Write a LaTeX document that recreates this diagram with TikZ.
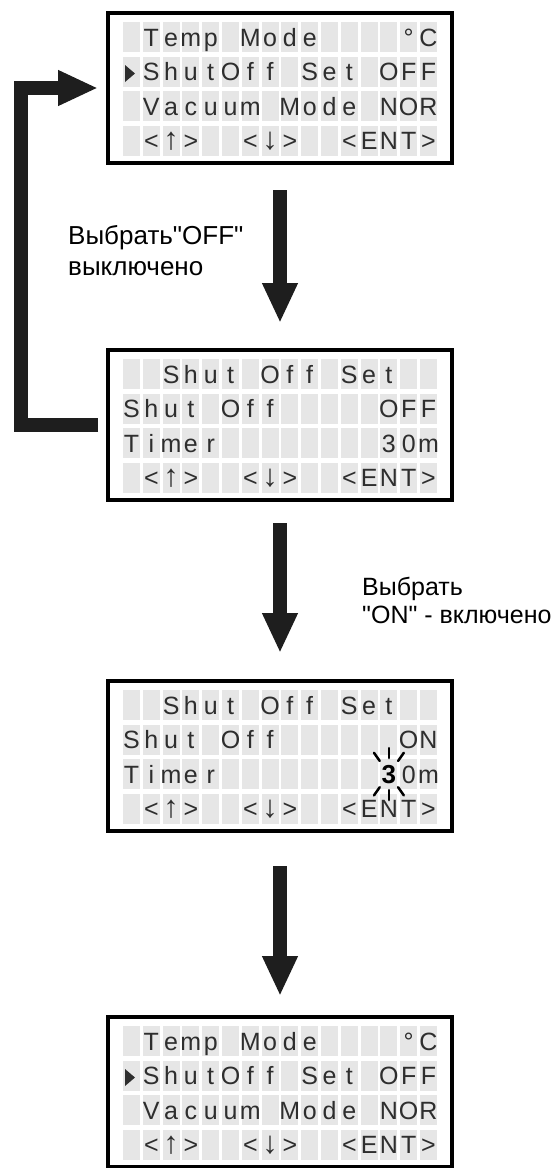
\documentclass[tikz,border=0pt]{standalone}
\usepackage{fontspec}
\setmainfont{Liberation Sans}[Ligatures=TeXOff]
\usetikzlibrary{arrows.meta,positioning,calc}
\definecolor{lcdgris}{HTML}{E6E6E6}
\definecolor{lcdtxt}{HTML}{2E2E2E}
\definecolor{noirA}{HTML}{1E1E1E}
\newcommand{\fl}[1]{{\fontsize{31}{31}\selectfont #1}}
\tikzset{
  ecran/.style={rectangle, draw=black, line width=3.5pt, fill=white, outer sep=0pt,
                inner sep=0pt, minimum width=344pt, minimum height=150pt},
  lcdcell/.style={fill=lcdgris},
  lcdchar/.style={anchor=base, inner sep=0pt, text=lcdtxt, font=\fontsize{25}{25}\selectfont},
  lcdbold/.style={anchor=base, inner sep=0pt, text=black, font=\fontsize{26}{26}\bfseries\selectfont},
  lbl/.style={align=left, inner sep=0pt, anchor=west, font=\fontsize{26}{31}\selectfont},
  fleche/.style={-{Triangle[width=33pt,length=40pt]}, line width=14pt, draw=noirA},
  rayon/.style={line width=2.5pt, draw=black, line cap=round},
}
\newcommand{\lcdgrid}[1]{%
  \foreach \r in {0,...,3}
    \foreach \c in {0,...,15}
      \fill[lcdcell] ($(#1.north west)+(15+19.8*\c,-9-34.5*\r)$) rectangle ++(17,-30);}
\newcommand{\lcdrow}[3]{%
  \foreach \ch [count=\k] in {#3}
    \node[lcdchar] at ($(#1.north west)+(3.7+19.8*\k,-33-34.5*#2)$) {\ch};}
\begin{document}
\begin{tikzpicture}[x=1pt,y=1pt]
  \useasboundingbox (0,0) rectangle (557,-1168);
  \node[ecran] (s1) at (280,-88) {};
  \node[ecran, below=187pt of s1] (s2) {};
  \node[ecran, below=181pt of s2] (s3) {};
  \node[ecran, below=186pt of s3] (s4) {};
  \foreach \s in {s1,s2,s3,s4} {\lcdgrid{\s}}
  % menu principal
  \foreach \s in {s1,s4} {
    \lcdrow{\s}{0}{{},T,e,m,p,{},M,o,d,e,{},{},{},{},°,C}
    \lcdrow{\s}{1}{{},S,h,u,t,O,f,f,{},S,e,t,{},O,F,F}
    \lcdrow{\s}{2}{{},V,a,c,u,u,m,{},M,o,d,e,{},N,O,R}
    \lcdrow{\s}{3}{{},<,\fl{↑},>,{},{},<,\fl{↓},>,{},{},<,E,N,T,>}
    \fill[lcdtxt] ($(\s.north west)+(17,-52)$) -- ++(10,-8.5) -- ++(-10,-8.5) -- cycle;
  }
  % reglage shut off
  \lcdrow{s2}{0}{{},{},S,h,u,t,{},O,f,f,{},S,e,t,{},{}}
  \lcdrow{s2}{1}{S,h,u,t,{},O,f,f,{},{},{},{},{},O,F,F}
  \lcdrow{s2}{2}{T,i,m,e,r,{},{},{},{},{},{},{},{},3,0,m}
  \lcdrow{s2}{3}{{},<,\fl{↑},>,{},{},<,\fl{↓},>,{},{},<,E,N,T,>}
  \lcdrow{s3}{0}{{},{},S,h,u,t,{},O,f,f,{},S,e,t,{},{}}
  \lcdrow{s3}{1}{S,h,u,t,{},O,f,f,{},{},{},{},{},{},O,N}
  \lcdrow{s3}{2}{T,i,m,e,r,{},{},{},{},{},{},{},{},{},0,m}
  \lcdrow{s3}{3}{{},<,\fl{↑},>,{},{},<,\fl{↓},>,{},{},<,E,N,T,>}
  \node[lcdbold] (b3) at ($(s3.north west)+(3.7+19.8*14,-33-34.5*2)$) {3};
  \foreach \a in {55,90,125,235,270,305}
    \draw[rayon] ($(b3.center)+(\a:16)$) -- ($(b3.center)+(\a:26)$);
  % fleches
  \draw[fleche, shorten <=27pt, shorten >=27pt] (s1.south) -- (s2.north);
  \draw[fleche, shorten <=23pt, shorten >=28pt] (s2.south) -- (s3.north);
  \draw[fleche, shorten <=35pt, shorten >=21pt] (s3.south) -- (s4.north);
  \draw[fleche, shorten <=10pt, shorten >=10pt] (s2.west) -- ++(-87.5,0) |- (s1.west);
  \node[lbl] (t1) at (68,-251) {Выбрать"OFF"\\выключено};
  \node[lbl, font=\fontsize{25}{28}\selectfont] (t2) at (362,-600) {Выбрать\\"ON" - включено};
\end{tikzpicture}
\end{document}
